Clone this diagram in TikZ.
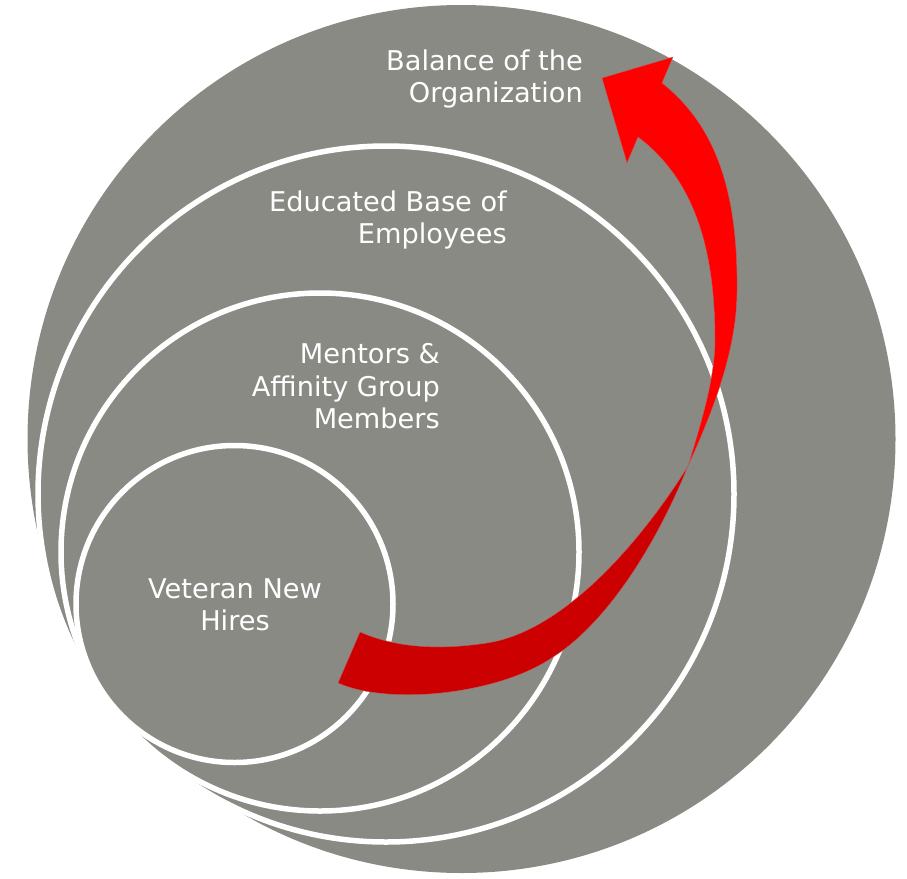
\documentclass[tikz,border=0pt]{standalone}
\usepackage{fontspec}
\setmainfont{DejaVu Sans}
\definecolor{cgray}{RGB}{138,138,132}
\definecolor{dred}{RGB}{204,0,0}
\definecolor{bred}{RGB}{255,0,0}
\definecolor{redline}{RGB}{190,95,95}
\begin{document}
\begin{tikzpicture}[x=1pt,y=-1pt,
  ring/.style={fill=cgray, draw=white, line width=5.5pt},
  lbl/.style={text=white, font=\fontsize{27.2}{32}\selectfont, inner sep=0pt},
  backband/.style={fill=dred, draw=redline, line width=0.4pt},
  frontband/.style={fill=bred, draw=redline, line width=0.4pt}]
\useasboundingbox (0,0) rectangle (907,878);
% circles
\fill[cgray] (461.5,439) circle[radius=434pt];
\draw[ring] (386,494) circle[radius=348pt];
\draw[ring] (320,552) circle[radius=259pt];
\draw[ring] (234.5,604) circle[radius=158.5pt];
% twisted arrow, back part
\coordinate (tw) at (688,466);
\coordinate (tailA) at (360,632);
\coordinate (tailB) at (338,683);
\coordinate (bu) at (487,643);
\coordinate (bl) at (553,657);
\path[backband] (tailA) .. controls (401,650) and (447,649) .. (bu)
  .. controls (567,631) and (646,534) .. (tw)
  .. controls (654,550) and (604,625) .. (bl)
  .. controls (500,694) and (390,706) .. (tailB) -- cycle;
% front part with head
\coordinate (tip) at (673,57);
\coordinate (n1) at (662,83);
\coordinate (n2) at (638,137);
\coordinate (br1) at (602,78);
\coordinate (br2) at (627,163);
\coordinate (fr) at (737,290);
\coordinate (fl) at (715,340);
\path[frontband] (tw) .. controls (713,411) and (737,350) .. (fr)
  .. controls (738,190) and (715,125) .. (n1)
  -- (tip) -- (br1) -- (br2) -- (n2)
  .. controls (695,180) and (715,250) .. (fl)
  .. controls (715,380) and (699.6,427.6) .. (tw) -- cycle;
% labels
\node[lbl, anchor=base east] (bal1) at (583,70) {Balance of the};
\node[lbl, anchor=base east] (bal2) at (583,102) {Organization};
\node[lbl, anchor=base east] (edu1) at (507,211) {Educated Base of};
\node[lbl, anchor=base east] (edu2) at (507,243) {Employees};
\node[lbl, anchor=base east] (men1) at (440,363) {Mentors \&};
\node[lbl, anchor=base east] (men2) at (440,396) {Affinity Group};
\node[lbl, anchor=base east] (men3) at (440,428) {Members};
\node[lbl, anchor=base] (vet1) at (235,598) {Veteran New};
\node[lbl, anchor=base] (vet2) at (235,630) {Hires};
\end{tikzpicture}
\end{document}
